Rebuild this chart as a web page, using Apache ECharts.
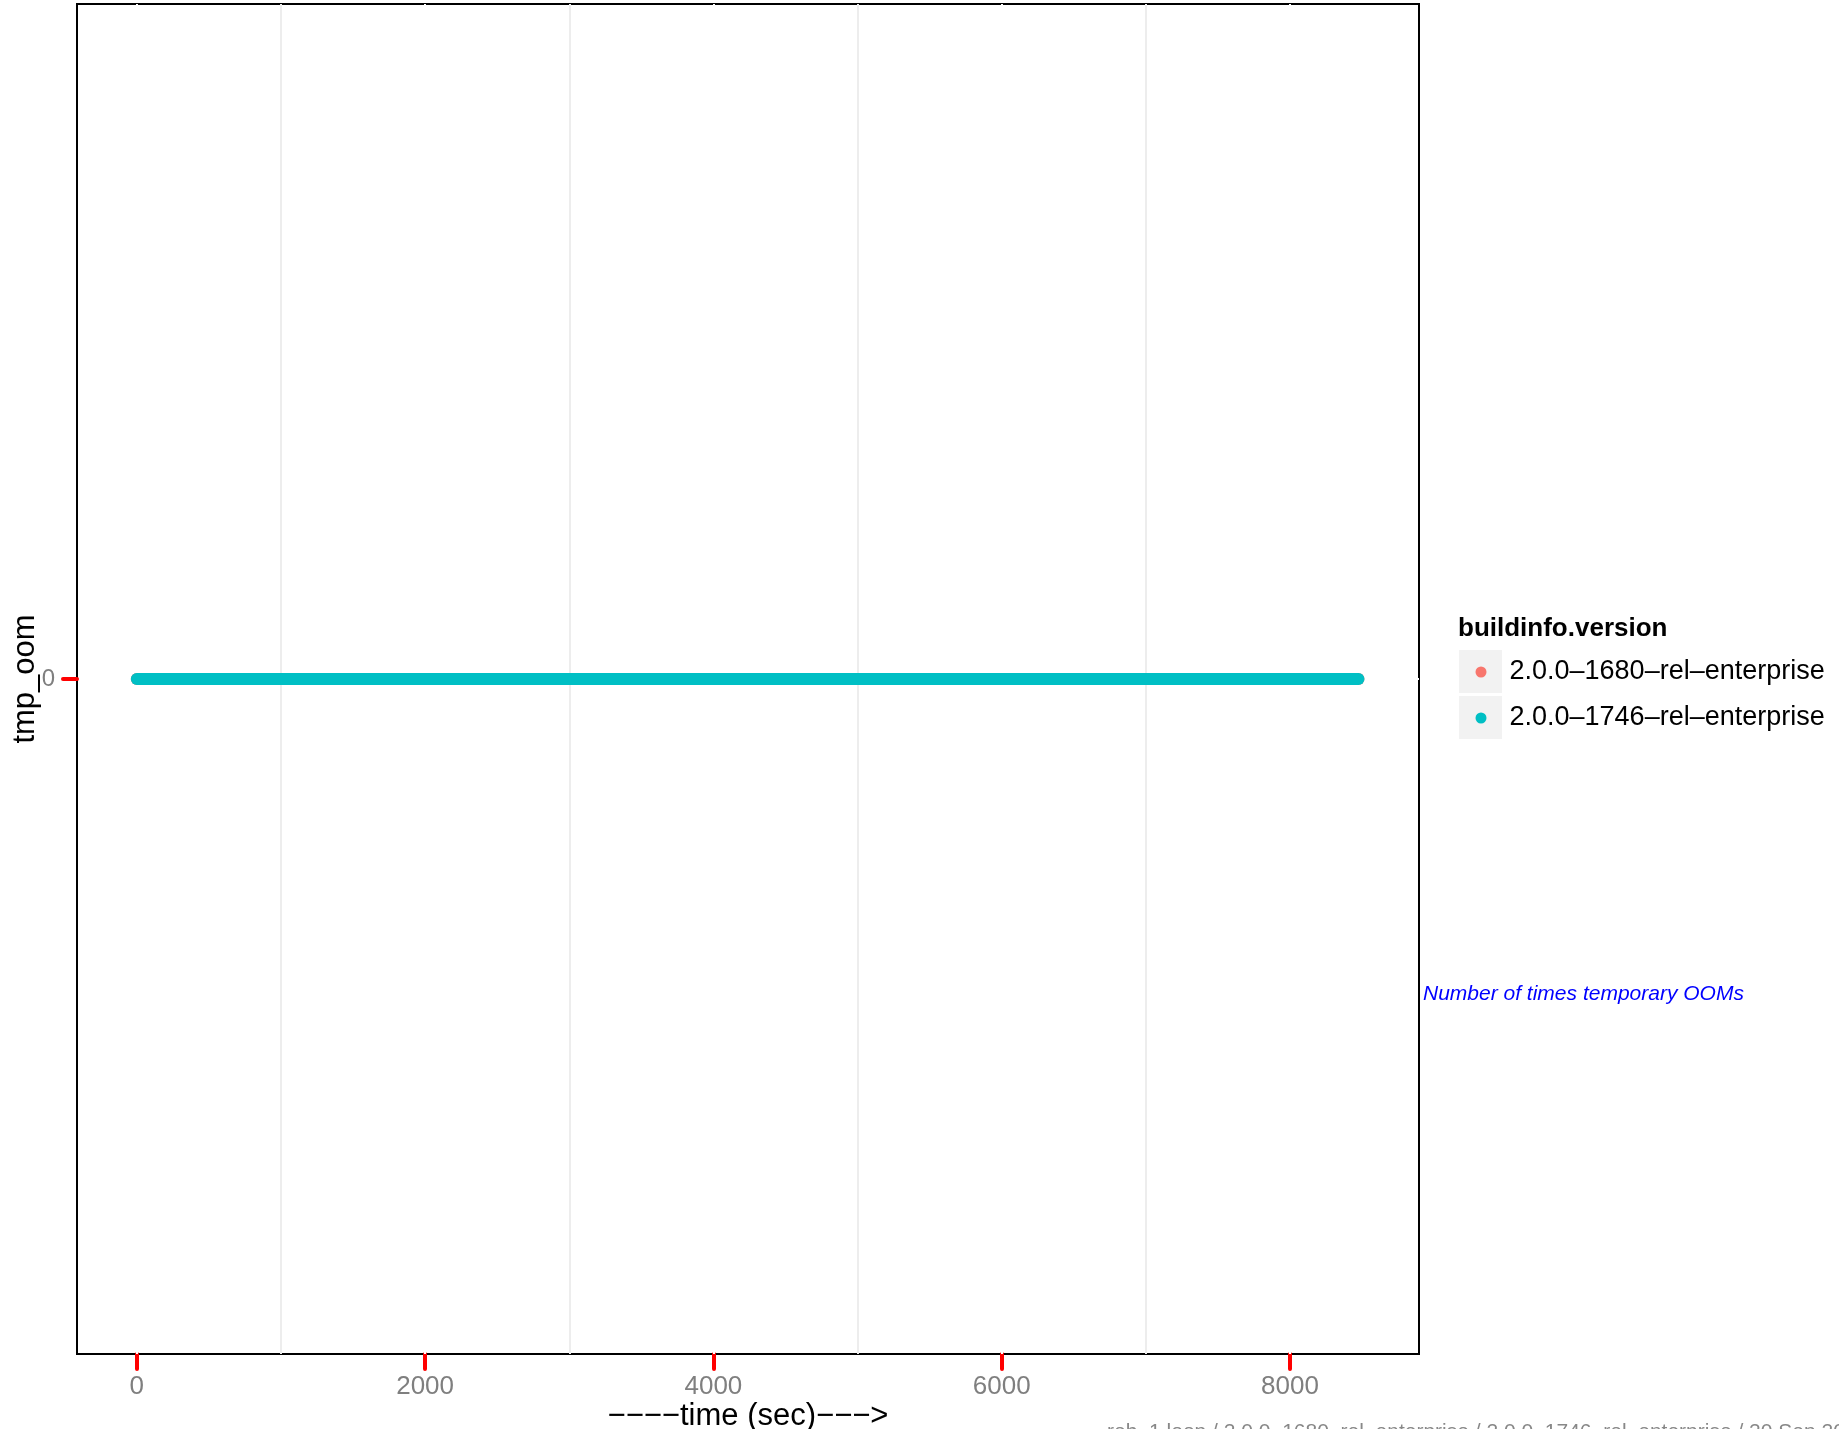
<!DOCTYPE html>
<html>
<head>
<meta charset="utf-8">
<script src="https://cdn.jsdelivr.net/npm/echarts@6/dist/echarts.min.js"></script>
<style>
html,body{margin:0;padding:0;background:#fff;}
#chart{width:1839px;height:1429px;}
</style>
</head>
<body>
<div id="chart"></div>
<script>
// ---- data ----
const seriesNames = ['2.0.0\u20131680\u2013rel\u2013enterprise', '2.0.0\u20131746\u2013rel\u2013enterprise'];
const seriesColors = ['#F8766D', '#00BFC4'];
const times1680 = [0, 8475];
const tmpOom1680 = [0, 0];
const times1746 = [0, 8475];
const tmpOom1746 = [0, 0];
const xTicks = [0, 2000, 4000, 6000, 8000];
const xMinorBreaks = [1000, 3000, 5000, 7000];
const yTicks = [0];
const xRange = [-415, 8895];
const yRange = [-0.05, 0.05];
const legendTitle = 'buildinfo.version';
const xTitle = '\u2212\u2212\u2212\u2212time (sec)\u2212\u2212\u2212>';
const yTitle = 'tmp_oom';
const noteText = 'Number of times temporary OOMs';
const captionText = 'reb_1 loop / 2.0.0\u20131680\u2013rel\u2013enterprise / 2.0.0\u20131746\u2013rel\u2013enterprise / 20 Sep 2015';

const FONT = '"Liberation Sans", Arial, Helvetica, sans-serif';

function pairs(xs, ys){ return xs.map((x,i)=>[x, ys[i]]); }

const gridMarkLines = [].concat(
  xMinorBreaks.map(v => ({ xAxis: v, lineStyle: { color: '#ededed', width: 2, type: 'solid' } })),
  xTicks.map(v => ({ xAxis: v, lineStyle: { color: '#ffffff', width: 2, type: 'solid' } })),
  yTicks.map(v => ({ yAxis: v, lineStyle: { color: '#ffffff', width: 2, type: 'solid' } }))
);

const chart = echarts.init(document.getElementById('chart'), null, { renderer: 'canvas' });
chart.setOption({
  animation: false,
  backgroundColor: '#ffffff',
  textStyle: { fontFamily: FONT },
  grid: {
    left: 77, top: 4, width: 1342, height: 1350,
    containLabel: false, outerBoundsMode: 'none',
    show: true, borderColor: '#000000', borderWidth: 2, backgroundColor: 'transparent'
  },
  xAxis: {
    type: 'value', min: xRange[0], max: xRange[1],
    axisLine: { show: false, onZero: false },
    axisTick: { show: true, customValues: xTicks, length: 15, lineStyle: { color: '#ff0000', width: 4, cap: 'round' } },
    axisLabel: { show: true, customValues: xTicks, color: '#7f7f7f', fontSize: 26, margin: 20, fontFamily: FONT,
      formatter: v => String(v) },
    splitLine: { show: false },
    name: xTitle, nameLocation: 'middle', nameGap: 47, nameMoveOverlap: false,
    nameTextStyle: { color: '#000000', fontSize: 31, fontFamily: FONT }
  },
  yAxis: {
    type: 'value', min: yRange[0], max: yRange[1], z: 6,
    axisLine: { show: true, onZero: false, lineStyle: { color: '#000000', width: 2 } },
    axisTick: { show: true, customValues: yTicks, length: 14, lineStyle: { color: '#ff0000', width: 4, cap: 'round' } },
    axisLabel: { show: true, customValues: yTicks, color: '#7f7f7f', fontSize: 24, margin: 22, fontFamily: FONT,
      formatter: v => String(v) },
    splitLine: { show: false },
    name: yTitle, nameLocation: 'middle', nameGap: 36, nameRotate: 90, nameMoveOverlap: false,
    nameTextStyle: { color: '#000000', fontSize: 31, fontFamily: FONT }
  },
  legend: {
    show: true, orient: 'vertical', left: 1470.5, top: 652, z: 10,
    itemWidth: 11, itemHeight: 11, itemGap: 16,
    data: seriesNames.map(n => ({ name: n, icon: 'circle' })),
    textStyle: { color: '#000000', fontSize: 27, fontFamily: FONT, lineHeight: 30, padding: [0, 0, 0, 18] },
    selectedMode: false
  },
  graphic: [
    { type: 'rect', z: 1, shape: { x: 1459, y: 650, width: 43, height: 43 }, style: { fill: '#f2f2f2' } },
    { type: 'rect', z: 1, shape: { x: 1459, y: 696, width: 43, height: 43 }, style: { fill: '#f2f2f2' } },
    { type: 'text', z: 10, x: 1458, y: 629, style: { text: legendTitle, font: 'bold 26px ' + FONT, fill: '#000000', verticalAlign: 'middle', align: 'left' } },
    { type: 'text', z: 10, x: 1423, y: 994, style: { text: noteText, font: 'italic 21px ' + FONT, fill: '#0000ff', verticalAlign: 'middle', align: 'left' } },
    { type: 'text', z: 10, x: 1107, y: 1432, style: { text: captionText, font: '21px ' + FONT, fill: '#888888', verticalAlign: 'middle', align: 'left' } }
  ],
  series: [
    {
      name: seriesNames[0], type: 'line', z: 2, color: seriesColors[0],
      data: pairs(times1680, tmpOom1680), showSymbol: false, symbol: 'circle',
      lineStyle: { width: 12, color: seriesColors[0], cap: 'round' },
      markLine: { z: 1, silent: true, symbol: ['none', 'none'], label: { show: false }, data: gridMarkLines, animation: false }
    },
    {
      name: seriesNames[1], type: 'line', z: 3, color: seriesColors[1],
      data: pairs(times1746, tmpOom1746), showSymbol: false, symbol: 'circle',
      lineStyle: { width: 12, color: seriesColors[1], cap: 'round' }
    }
  ]
});
</script>
</body>
</html>
